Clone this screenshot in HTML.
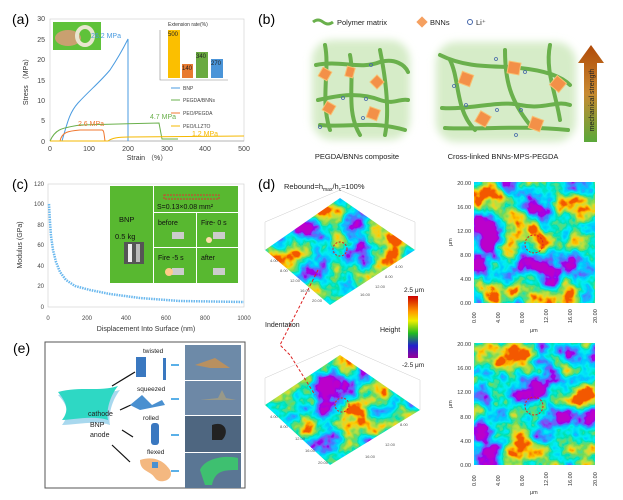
<!DOCTYPE html>
<html><head><meta charset="utf-8"><style>
html,body{margin:0;padding:0;background:#fff;}
svg{display:block;font-family:"Liberation Sans",sans-serif;}
</style></head><body>
<svg width="623" height="500" viewBox="0 0 623 500" xmlns="http://www.w3.org/2000/svg">
<defs>
<filter id="rb" x="0" y="0" width="100%" height="100%">
<feTurbulence type="fractalNoise" baseFrequency="0.032" numOctaves="4" seed="3"/>
<feColorMatrix type="matrix" values="2.1 0 0 0 -0.55  2.1 0 0 0 -0.55  2.1 0 0 0 -0.55  0 0 0 0 1"/>
<feComponentTransfer>
<feFuncR type="table" tableValues="0.5 0.3 0.05 0 0 0 0.15 0.5 1 0.9"/>
<feFuncG type="table" tableValues="0 0 0.2 0.55 0.85 0.75 0.7 0.75 0.6 0.1"/>
<feFuncB type="table" tableValues="0.6 0.85 1 1 0.9 0.4 0.1 0.05 0 0"/>
</feComponentTransfer>
</filter>
<filter id="rb2" x="0" y="0" width="100%" height="100%">
<feTurbulence type="fractalNoise" baseFrequency="0.032" numOctaves="4" seed="11"/>
<feColorMatrix type="matrix" values="2.1 0 0 0 -0.55  2.1 0 0 0 -0.55  2.1 0 0 0 -0.55  0 0 0 0 1"/>
<feComponentTransfer>
<feFuncR type="table" tableValues="0.5 0.3 0.05 0 0 0 0.15 0.5 1 0.9"/>
<feFuncG type="table" tableValues="0 0 0.2 0.55 0.85 0.75 0.7 0.75 0.6 0.1"/>
<feFuncB type="table" tableValues="0.6 0.85 1 1 0.9 0.4 0.1 0.05 0 0"/>
</feComponentTransfer>
</filter>
<filter id="glow"><feGaussianBlur stdDeviation="4"/></filter>
<linearGradient id="cb" x1="0" y1="0" x2="0" y2="1">
<stop offset="0" stop-color="#c00"/><stop offset="0.25" stop-color="#f90"/><stop offset="0.4" stop-color="#ee0"/>
<stop offset="0.6" stop-color="#2b2"/><stop offset="0.8" stop-color="#22c"/><stop offset="1" stop-color="#909"/>
</linearGradient>
<linearGradient id="arr" x1="0" y1="0" x2="0" y2="1">
<stop offset="0" stop-color="#b04a08"/><stop offset="0.5" stop-color="#c88a30"/><stop offset="1" stop-color="#5aa83a"/>
</linearGradient>
<clipPath id="s1"><polygon points="265,250 340,198 415,250 330,305"/></clipPath>
<clipPath id="s2"><polygon points="265,405 340,355 420,410 330,465"/></clipPath>
</defs>

<!-- (a) -->
<text x="12" y="24" font-size="14">(a)</text>
<g font-size="7" fill="#444" text-anchor="end">
<text x="45" y="21">30</text><text x="45" y="42">25</text><text x="45" y="62">20</text>
<text x="45" y="83">15</text><text x="45" y="103">10</text><text x="45" y="123">5</text><text x="45" y="144">0</text>
</g>
<g font-size="7" fill="#444" text-anchor="middle">
<text x="50" y="151">0</text><text x="89" y="151">100</text><text x="128" y="151">200</text>
<text x="167" y="151">300</text><text x="205" y="151">400</text><text x="244" y="151">500</text>
</g>
<text x="28" y="80" font-size="7" fill="#333" transform="rotate(-90 28 80)" text-anchor="middle">Stress （MPa）</text>
<text x="147" y="160" font-size="7" fill="#333" text-anchor="middle">Strain （%）</text>
<rect x="50" y="19" width="194" height="122" fill="none" stroke="#ccc" stroke-width="0.6"/>
<line x1="50" y1="141" x2="244" y2="141" stroke="#888" stroke-width="0.6"/>
<rect x="53" y="22" width="48" height="28" fill="#5fc23a"/>
<ellipse cx="68" cy="38" rx="13" ry="8" fill="#c9a070"/>
<ellipse cx="85" cy="36" rx="8" ry="9" fill="none" stroke="#e8e6d0" stroke-width="4"/>
<path d="M62,141 C68,120 70,112 78,103 C90,90 100,82 110,70 C120,55 124,47 128,39 L128,141" fill="none" stroke="#4a9be0" stroke-width="1"/>
<path d="M50,141 C55,130 60,128 80,125 L159,123 L162,139 L178,139" fill="none" stroke="#6ab04c" stroke-width="1"/>
<path d="M60,141 C62,132 68,131 80,130 L102,130 C104,130 104,134 105,141" fill="none" stroke="#f07830" stroke-width="1"/>
<path d="M50,141 L108,141 C112,138 118,137 130,137 L244,136" fill="none" stroke="#f5b800" stroke-width="1"/>
<text x="106" y="38" font-size="7" fill="#4a9be0" text-anchor="middle">26.2 MPa</text>
<text x="163" y="119" font-size="7" fill="#6ab04c" text-anchor="middle">4.7 MPa</text>
<text x="91" y="126" font-size="7" fill="#f07830" text-anchor="middle">2.6 MPa</text>
<text x="205" y="136" font-size="7" fill="#f5b800" text-anchor="middle">1.2 MPa</text>
<text x="168" y="26" font-size="5" fill="#333">Extension rate(%)</text>
<polyline points="160,30 160,80 228,80" fill="none" stroke="#888" stroke-width="0.6"/>
<rect x="168" y="30" width="12" height="48" fill="#fbbf00"/>
<rect x="182" y="64" width="11" height="14" fill="#e87a30"/>
<rect x="196" y="52" width="12" height="26" fill="#6aaa40"/>
<rect x="211" y="59" width="12" height="19" fill="#4a94d8"/>
<g font-size="6" fill="#222"><text x="168" y="36">500</text><text x="182" y="70">140</text><text x="196" y="58">340</text><text x="211" y="65">270</text></g>
<g font-size="5" fill="#444">
<line x1="171" y1="88" x2="180" y2="88" stroke="#4a9be0"/><text x="183" y="90">BNP</text>
<line x1="171" y1="100" x2="180" y2="100" stroke="#6ab04c"/><text x="183" y="102">PEGDA/BNNs</text>
<line x1="171" y1="113" x2="180" y2="113" stroke="#f07830"/><text x="183" y="115">PEO/PEGDA</text>
<line x1="171" y1="126" x2="180" y2="126" stroke="#f5b800"/><text x="183" y="128">PEO/LLZTO</text>
</g>

<!-- (b) -->
<text x="258" y="24" font-size="14">(b)</text>
<path d="M313,22 q5,-4 10,0 t10,0" stroke="#6ab04c" stroke-width="3" fill="none"/>
<text x="337" y="25" font-size="7.5" fill="#222">Polymer matrix</text>
<rect x="418" y="18" width="8" height="8" fill="#f5a060" transform="rotate(45 422 22)"/>
<text x="430" y="25" font-size="7.5" fill="#222">BNNs</text>
<circle cx="470" cy="22" r="2.5" fill="none" stroke="#4466aa" stroke-width="1"/>
<text x="476" y="25" font-size="7.5" fill="#222">Li⁺</text>
<rect x="312" y="40" width="98" height="100" rx="20" fill="#d6ecc8" filter="url(#glow)"/>
<rect x="436" y="42" width="140" height="100" rx="20" fill="#d6ecc8" filter="url(#glow)"/>
<g stroke="#6ab04c" stroke-width="4" fill="none" stroke-linecap="round">
<path d="M316,65 C340,60 360,70 380,62 C395,58 405,65 408,72"/>
<path d="M318,100 C340,95 360,92 380,100 C395,105 400,98 408,100"/>
<path d="M325,45 C330,70 320,100 330,130"/>
<path d="M350,55 C355,80 345,110 360,135"/>
<path d="M380,50 C385,75 390,110 385,135"/>
<path d="M320,125 C350,128 370,120 405,130"/>
<path d="M440,55 C470,70 500,65 520,68 C540,70 560,75 570,85"/>
<path d="M442,108 C470,110 500,100 520,105 C545,110 555,100 570,105"/>
<path d="M450,60 C460,80 455,110 475,130"/>
<path d="M505,50 C505,80 510,100 530,125"/>
<path d="M550,45 C545,70 555,90 560,120"/>
<path d="M445,128 C480,130 520,125 568,130"/>
</g>
<g fill="#f39048" stroke="#f8c070" stroke-width="1">
<rect x="320" y="69" width="10" height="10" transform="rotate(30 325 74)"/>
<rect x="346" y="67" width="8" height="10" transform="rotate(15 350 72)"/>
<rect x="372" y="77" width="10" height="10" transform="rotate(45 377 82)"/>
<rect x="324" y="103" width="10" height="10" transform="rotate(30 329 108)"/>
<rect x="368" y="108" width="11" height="11" transform="rotate(20 373 113)"/>
<rect x="460" y="73" width="12" height="12" transform="rotate(20 466 79)"/>
<rect x="508" y="62" width="12" height="12" transform="rotate(10 514 68)"/>
<rect x="552" y="78" width="12" height="12" transform="rotate(40 558 84)"/>
<rect x="477" y="113" width="12" height="12" transform="rotate(30 483 119)"/>
<rect x="530" y="118" width="12" height="12" transform="rotate(20 536 124)"/>
</g>
<g fill="none" stroke="#4466aa" stroke-width="0.8">
<circle cx="371" cy="65" r="1.5"/><circle cx="343" cy="98" r="1.5"/><circle cx="366" cy="99" r="1.5"/>
<circle cx="363" cy="118" r="1.5"/><circle cx="320" cy="127" r="1.5"/><circle cx="496" cy="59" r="1.5"/>
<circle cx="454" cy="86" r="1.5"/><circle cx="466" cy="105" r="1.5"/><circle cx="497" cy="110" r="1.5"/>
<circle cx="521" cy="110" r="1.5"/><circle cx="516" cy="135" r="1.5"/><circle cx="525" cy="72" r="1.5"/>
</g>
<polygon points="584,142 584,63 578,63 591,45 604,63 597,63 597,142" fill="url(#arr)"/>
<text x="594" y="100" font-size="7" fill="#222" transform="rotate(-90 594 100)" text-anchor="middle">mechanical strength</text>
<text x="357" y="159" font-size="7.5" fill="#222" text-anchor="middle">PEGDA/BNNs composite</text>
<text x="503" y="159" font-size="7.5" fill="#222" text-anchor="middle">Cross-linked BNNs-MPS-PEGDA</text>

<!-- (c) -->
<text x="12" y="189" font-size="14">(c)</text>
<rect x="48" y="184" width="196" height="123" fill="none" stroke="#ccc" stroke-width="0.6"/>
<g font-size="6" fill="#444" text-anchor="end">
<text x="44" y="186">120</text><text x="44" y="206">100</text><text x="44" y="227">80</text>
<text x="44" y="247">60</text><text x="44" y="268">40</text><text x="44" y="288">20</text><text x="44" y="309">0</text>
</g>
<g font-size="6" fill="#444" text-anchor="middle">
<text x="48" y="320">0</text><text x="87" y="320">200</text><text x="126" y="320">400</text>
<text x="166" y="320">600</text><text x="205" y="320">800</text><text x="244" y="320">1000</text>
</g>
<text x="22" y="245" font-size="7" fill="#333" transform="rotate(-90 22 245)" text-anchor="middle">Modulus (GPa)</text>
<text x="146" y="331" font-size="7" fill="#333" text-anchor="middle">Displacement Into Surface (nm)</text>
<path d="M49,204 L50,222 L51,236 L53,250 L56,262 L60,272 L66,280 L75,286 L90,290 L110,294 L140,298 L180,301 L244,302" fill="none" stroke="#6ab8ee" stroke-width="2.5" stroke-dasharray="1.5 1"/>
<rect x="110" y="186" width="43" height="97" fill="#58b830"/>
<rect x="154" y="186" width="84" height="26" fill="#58b830"/>
<rect x="154" y="213" width="42" height="34" fill="#58b830"/>
<rect x="197" y="213" width="41" height="34" fill="#58b830"/>
<rect x="154" y="248" width="42" height="35" fill="#58b830"/>
<rect x="197" y="248" width="41" height="35" fill="#58b830"/>
<rect x="124" y="242" width="20" height="22" fill="#555"/>
<rect x="128" y="244" width="4" height="18" fill="#eee"/><rect x="136" y="244" width="4" height="18" fill="#bbb"/>
<text x="119" y="222" font-size="7.5" fill="#111">BNP</text>
<text x="115" y="239" font-size="7.5" fill="#111">0.5 kg</text>
<rect x="164" y="195" width="55" height="4" fill="none" stroke="#d33" stroke-dasharray="2 1"/>
<text x="157" y="209" font-size="7" fill="#111">S=0.13×0.08 mm²</text>
<text x="158" y="225" font-size="7" fill="#111">before</text>
<text x="201" y="225" font-size="7" fill="#111">Fire- 0 s</text>
<text x="158" y="260" font-size="7" fill="#111">Fire -5 s</text>
<text x="201" y="260" font-size="7" fill="#111">after</text>
<g fill="#ccc"><rect x="172" y="232" width="12" height="7"/><rect x="213" y="232" width="12" height="7"/><rect x="172" y="268" width="12" height="7"/><rect x="213" y="268" width="12" height="7"/></g>
<circle cx="209" cy="240" r="3" fill="#fda"/><circle cx="169" cy="272" r="4" fill="#fc8"/>

<!-- (d) -->
<text x="258" y="189" font-size="14">(d)</text>
<text x="284" y="189" font-size="7.5" fill="#222">Rebound=h<tspan font-size="5" dy="2">max</tspan><tspan dy="-2">/h</tspan><tspan font-size="5" dy="2">c</tspan><tspan dy="-2">≈100%</tspan></text>
<g clip-path="url(#s1)"><rect x="260" y="195" width="160" height="115" filter="url(#rb)"/></g>
<g clip-path="url(#s2)"><rect x="260" y="350" width="165" height="120" filter="url(#rb2)"/></g>
<g stroke="#ccc" stroke-width="0.5" fill="none">
<polyline points="265,250 265,222 340,190 415,222 415,250"/>
<polyline points="265,405 265,378 340,345 420,380 420,410"/>
</g>
<g font-size="4" fill="#555">
<text x="270" y="262">4.00</text><text x="280" y="272">8.00</text><text x="290" y="282">12.00</text><text x="300" y="292">16.00</text><text x="312" y="302">20.00</text>
<text x="395" y="268">4.00</text><text x="385" y="278">8.00</text><text x="375" y="288">12.00</text><text x="360" y="296">16.00</text>
<text x="270" y="418">4.00</text><text x="280" y="428">8.00</text><text x="295" y="440">12.00</text><text x="305" y="452">16.00</text><text x="318" y="464">20.00</text>
<text x="400" y="426">8.00</text><text x="385" y="446">12.00</text><text x="365" y="458">16.00</text>
</g>
<circle cx="340" cy="249" r="7" fill="none" stroke="#d22" stroke-dasharray="2 1.5"/>
<circle cx="342" cy="405" r="7" fill="none" stroke="#d22" stroke-dasharray="2 1.5"/>
<path d="M318,270 L280,345 L290,355 L315,395" fill="none" stroke="#d22" stroke-dasharray="3 2" stroke-width="1"/>
<text x="265" y="327" font-size="7" fill="#222">Indentation</text>
<text x="380" y="332" font-size="7" fill="#222">Height</text>
<rect x="408" y="296" width="10" height="62" fill="url(#cb)"/>
<text x="404" y="292" font-size="6.5" fill="#222">2.5 μm</text>
<text x="402" y="367" font-size="6.5" fill="#222">-2.5 μm</text>
<rect x="474" y="182" width="121" height="121" filter="url(#rb)"/>
<rect x="474" y="343" width="121" height="122" filter="url(#rb2)"/>
<circle cx="534" cy="244" r="9" fill="none" stroke="#d22" stroke-dasharray="2 1.5"/>
<circle cx="534" cy="406" r="9" fill="none" stroke="#d22" stroke-dasharray="2 1.5"/>
<g font-size="5.5" fill="#333" text-anchor="end">
<text x="471" y="185">20.00</text><text x="471" y="209">16.00</text><text x="471" y="233">12.00</text>
<text x="471" y="257">8.00</text><text x="471" y="281">4.00</text><text x="471" y="305">0.00</text>
<text x="471" y="346">20.00</text><text x="471" y="370">16.00</text><text x="471" y="394">12.00</text>
<text x="471" y="419">8.00</text><text x="471" y="443">4.00</text><text x="471" y="467">0.00</text>
</g>
<g font-size="5.5" fill="#333">
<text transform="translate(476,323) rotate(-90)">0.00</text><text transform="translate(500,323) rotate(-90)">4.00</text>
<text transform="translate(524,323) rotate(-90)">8.00</text><text transform="translate(548,323) rotate(-90)">12.00</text>
<text transform="translate(572,323) rotate(-90)">16.00</text><text transform="translate(597,323) rotate(-90)">20.00</text>
<text transform="translate(476,486) rotate(-90)">0.00</text><text transform="translate(500,486) rotate(-90)">4.00</text>
<text transform="translate(524,486) rotate(-90)">8.00</text><text transform="translate(548,486) rotate(-90)">12.00</text>
<text transform="translate(572,486) rotate(-90)">16.00</text><text transform="translate(597,486) rotate(-90)">20.00</text>
<text x="530" y="332">μm</text><text x="530" y="494">μm</text>
<text transform="translate(452,246) rotate(-90)">μm</text><text transform="translate(452,408) rotate(-90)">μm</text>
</g>

<!-- (e) -->
<text x="13" y="353" font-size="14">(e)</text>
<rect x="45" y="342" width="200" height="146" fill="#fff" stroke="#555" stroke-width="1"/>
<path d="M58,395 C80,390 100,395 120,390 C112,400 108,415 110,425 C95,420 75,425 62,425 C70,415 68,405 58,395Z" fill="#a8d8ee"/>
<path d="M58,392 C80,386 100,392 118,386 C110,396 106,410 108,420 C92,415 72,420 62,420 C70,410 66,402 58,392Z" fill="#2ed8c4"/>
<text x="88" y="416" font-size="7" fill="#222">cathode</text>
<text x="90" y="427" font-size="7" fill="#222">BNP</text>
<text x="90" y="437" font-size="7" fill="#222">anode</text>
<g stroke="#111" stroke-width="1.2"><line x1="112" y1="386" x2="135" y2="372"/><line x1="120" y1="410" x2="133" y2="404"/><line x1="122" y1="430" x2="133" y2="437"/><line x1="112" y1="445" x2="130" y2="462"/></g>
<text x="143" y="353" font-size="6.5" fill="#222">twisted</text>
<text x="137" y="391" font-size="6.5" fill="#222">squeezed</text>
<text x="143" y="420" font-size="6.5" fill="#222">rolled</text>
<text x="147" y="454" font-size="6.5" fill="#222">flexed</text>
<rect x="136" y="357" width="10" height="20" fill="#3a78c0"/><rect x="163" y="358" width="3" height="22" fill="#3a78c0"/>
<polygon points="130,405 142,395 152,405 162,400 165,405 140,410" fill="#4a90d0"/>
<rect x="151" y="423" width="8" height="22" rx="3" fill="#3a78c0"/>
<path d="M140,460 C155,455 165,462 170,470 C175,480 160,485 155,478 C150,470 140,472 140,460Z" fill="#f4b880"/>
<rect x="152" y="462" width="6" height="6" fill="#4a90d0"/>
<g fill="#5ab0e8"><rect x="171" y="364" width="8" height="2"/><rect x="171" y="398" width="8" height="2"/><rect x="171" y="434" width="8" height="2"/><rect x="171" y="470" width="8" height="2"/></g>
<rect x="185" y="345" width="56" height="35" fill="#6d8aa8"/>
<rect x="185" y="381" width="56" height="34" fill="#6d88a6"/>
<rect x="185" y="416" width="56" height="36" fill="#4e6680"/>
<rect x="185" y="453" width="56" height="35" fill="#5a7694"/>
<path d="M195,365 L215,358 L230,368 L210,368Z" fill="#b89060"/>
<path d="M200,400 L218,398 L222,390 L226,398 L236,400Z" fill="#998"/>
<path d="M212,425 C225,420 230,432 222,440 L212,440Z" fill="#222"/>
<path d="M200,470 C205,458 225,455 238,458 L238,470 C225,470 215,470 212,485 L205,485Z" fill="#3ec070"/>
</svg>
</body></html>
